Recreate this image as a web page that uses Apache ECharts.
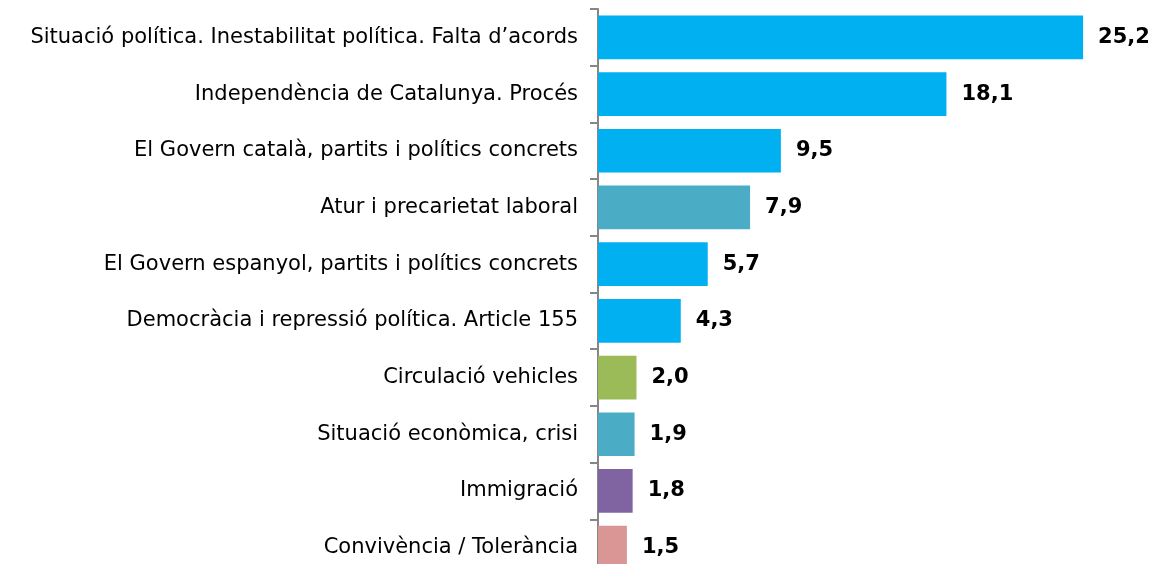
<!DOCTYPE html>
<html>
<head>
<meta charset="utf-8">
<script src="https://cdn.jsdelivr.net/npm/echarts@6/dist/echarts.min.js"></script>
<style>
  html, body { margin: 0; padding: 0; background: #fff; }
  #chart { width: 1164px; height: 564px; }
</style>
</head>
<body>
<div id="chart"></div>
<script>
const categories = [
  'Situació política. Inestabilitat política. Falta d\u2019acords',
  'Independència de Catalunya. Procés',
  'El Govern català, partits i polítics concrets',
  'Atur i precarietat laboral',
  'El Govern espanyol, partits i polítics concrets',
  'Democràcia i repressió política. Article 155',
  'Circulació vehicles',
  'Situació econòmica, crisi',
  'Immigració',
  'Convivència / Tolerància'
];
const values = [25.2, 18.1, 9.5, 7.9, 5.7, 4.3, 2.0, 1.9, 1.8, 1.5];
const barColors = ['#00B0F0', '#00B0F0', '#00B0F0', '#4BACC6', '#00B0F0',
  '#00B0F0', '#9BBB59', '#4BACC6', '#8064A2', '#D99694'];

const chart = echarts.init(document.getElementById('chart'), null, { renderer: 'canvas' });

chart.setOption({
  animation: false,
  grid: {
    left: 598, width: 539, top: 9, height: 567,
    containLabel: false, outerBoundsMode: 'none'
  },
  xAxis: { type: 'value', min: 0, max: 28, show: false },
  yAxis: {
    type: 'category',
    inverse: true,
    data: categories,
    axisLine: { lineStyle: { color: '#868686', width: 2 } },
    axisTick: { show: true, length: 8, lineStyle: { color: '#868686', width: 2 } },
    axisLabel: {
      margin: 20,
      color: '#000',
      fontFamily: 'DejaVu Sans',
      fontSize: 21
    }
  },
  series: [{
    type: 'bar',
    barCategoryGap: '23%',
    data: values.map((v, i) => ({ value: v, itemStyle: { color: barColors[i] } })),
    label: {
      show: true,
      position: 'right',
      distance: 15,
      color: '#000',
      fontFamily: 'DejaVu Sans',
      fontWeight: 'bold',
      fontSize: 21,
      formatter: p => p.value.toFixed(1).replace('.', ',')
    }
  }]
});
</script>
</body>
</html>
